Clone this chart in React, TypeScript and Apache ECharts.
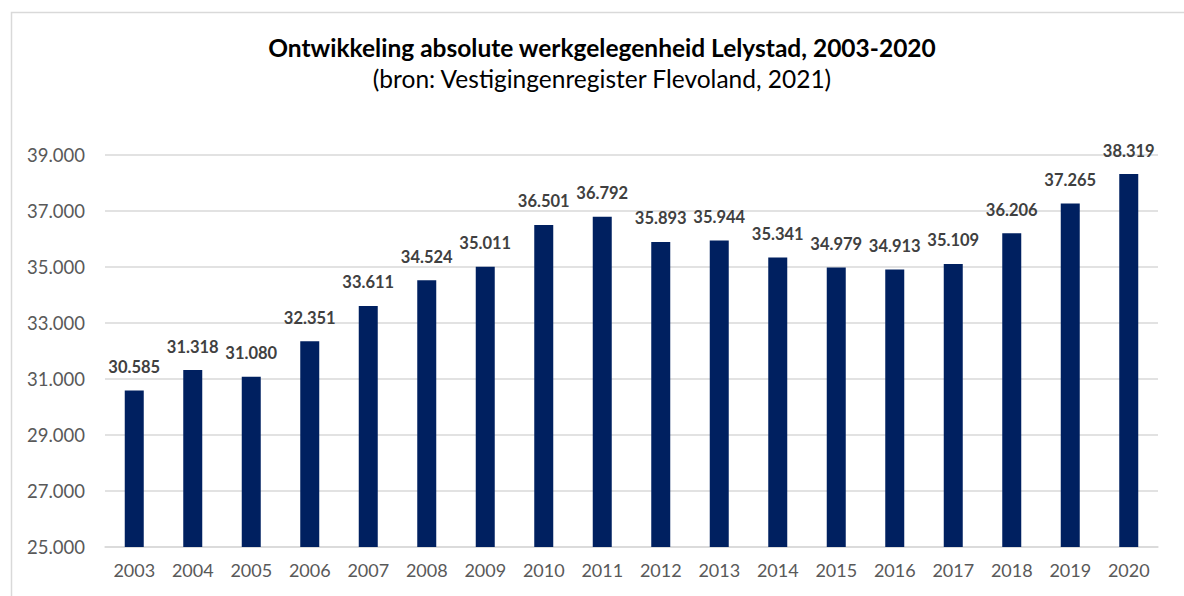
import React, { useEffect, useRef } from "react";
import * as echarts from "echarts";

const years = ["2003","2004","2005","2006","2007","2008","2009","2010","2011","2012","2013","2014","2015","2016","2017","2018","2019","2020"];
const jobs = [30585,31318,31080,32351,33611,34524,35011,36501,36792,35893,35944,35341,34979,34913,35109,36206,37265,38319];
const titleText = "Ontwikkeling absolute werkgelegenheid Lelystad, 2003-2020";
const subtitleText = "(bron: Vestigingenregister Flevoland, 2021)";

const fmt = (v: number) => String(Math.round(v)).replace(/\B(?=(\d{3})+(?!\d))/g, ".");

export default function App() {
  const ref = useRef<HTMLDivElement>(null);
  useEffect(() => {
    document.body.style.margin = "0";
    const chart = echarts.init(ref.current!, null, { renderer: "svg" });
    const font = "Lato";
    chart.setOption({
      animation: false,
      backgroundColor: "#ffffff",
      graphic: [
        { type: "rect", left: 9, top: 10, shape: { width: 1300, height: 700 }, style: { fill: "none", stroke: "#d9d9d9", lineWidth: 1.5 }, silent: true, z: -1 },
      ],
      title: {
        text: titleText,
        subtext: subtitleText,
        left: 597,
        textAlign: "center",
        top: 30,
        itemGap: 6,
        textStyle: { fontFamily: font, fontSize: 24.5, fontWeight: "bold", color: "#000000" },
        subtextStyle: { fontFamily: font, fontSize: 24.5, color: "#000000" },
      },
      grid: { left: 105, right: 26, top: 155, bottom: 49, containLabel: false },
      xAxis: {
        type: "category",
        data: years,
        axisLine: { lineStyle: { color: "#d9d9d9", width: 1.5 } },
        axisTick: { show: false },
        axisLabel: { fontFamily: font, fontSize: 18, color: "#595959", margin: 14 },
      },
      yAxis: {
        type: "value",
        min: 25000,
        max: 39000,
        interval: 2000,
        axisLine: { show: false },
        axisTick: { show: false },
        splitLine: { lineStyle: { color: "#d9d9d9", width: 1.5 } },
        axisLabel: { fontFamily: font, fontSize: 18.5, color: "#595959", margin: 20, formatter: (v: number) => fmt(v) },
      },
      series: [
        {
          type: "bar",
          data: jobs,
          barWidth: 19,
          itemStyle: { color: "#002060" },
          label: {
            show: true,
            position: "top",
            distance: 15,
            fontFamily: font,
            fontSize: 16.5,
            fontWeight: "bold",
            color: "#404040",
            formatter: (p: any) => fmt(p.value),
          },
        },
      ],
    });
    return () => chart.dispose();
  }, []);
  return <div ref={ref} style={{ width: 1184, height: 596 }} />;
}
